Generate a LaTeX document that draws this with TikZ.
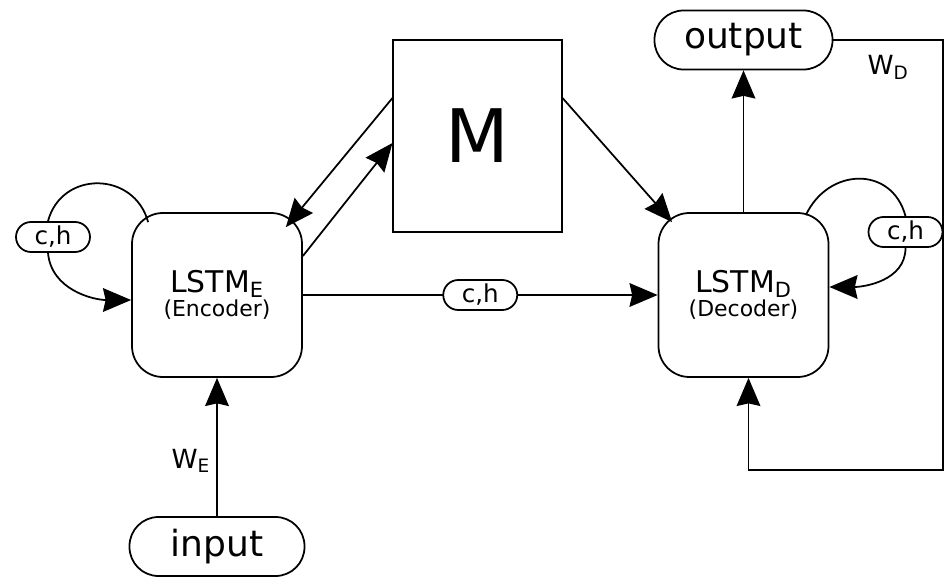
\documentclass[tikz,border=0pt]{standalone}
\usepackage{fontspec}
\setmainfont{DejaVu Sans}
\usepackage{tikz}
\usetikzlibrary{arrows.meta,positioning}
\tikzset{>={Stealth[length=16pt,width=13.5pt,inset=1.5pt]},
	lstm/.style={draw, rounded corners=0.62cm, minimum width=3.4cm, minimum height=3.28cm,
		align=center, font=\fontsize{17}{14}\selectfont},
	iobox/.style={draw, rounded corners=0.58cm, minimum width=3.5cm, minimum height=1.18cm,
		inner sep=0pt, font=\fontsize{20.5}{20}\selectfont},
	chbox/.style={draw, fill=white, rounded corners=0.3cm, minimum width=1.48cm, minimum height=0.6cm,
		inner sep=0pt, font=\fontsize{14}{14}\selectfont},
	membox/.style={draw, line width=0.6pt, minimum width=3.38cm, minimum height=3.84cm,
		font=\fontsize{42}{42}\selectfont},
	wlabel/.style={font=\fontsize{15}{15}\selectfont}}
\newcommand{\lstmsub}[1]{{\fontsize{12.5}{13}\selectfont #1}}

\begin{document}
\begin{tikzpicture}[line width=1pt]

	\useasboundingbox (0,0) rectangle (18.9,11.62);

	\node[lstm] (enc) at (4.34,5.72) {LSTM\textsubscript{E}\\\lstmsub{(Encoder)}};
	\node[lstm] (dec) at (14.87,5.72) {LSTM\textsubscript{D}\\\lstmsub{(Decoder)}};
	\node[membox] (mem) at (9.55,8.90) {M};
	\node[iobox, minimum width=3.56cm] (out) at (14.87,10.82) {output};
	\node[iobox] (in) at (4.34,0.69) {input};
	\node[chbox] (chl) at (1.06,6.88) {c,h};
	\node[chbox] (chr) at (18.11,6.98) {c,h};
	\coordinate (fbtop) at (18.86,10.82);
	\coordinate (fbbot) at (18.86,2.22);

	% input and output
	\draw[->] (in.north) -- node[wlabel, left, pos=0.4] {W\textsubscript{E}} (enc.south);
	\draw[->] (dec.north) -- (out.south);
	\draw[->] (out.east) -- node[wlabel, below=5pt, pos=0.5] {W\textsubscript{D}} (fbtop) -- (fbbot)
		-| ([xshift=0.1cm]dec.south);

	% state passed on
	\draw[->] (enc.east) -- node[chbox] (chm) {c,h} (dec.west);

	% memory
	\draw[->] ([yshift=0.76cm]mem.west) -- ([xshift=-0.34cm,yshift=-0.3cm]enc.north east);
	\draw[->] ([yshift=0.78cm]enc.east) -- ([yshift=-0.14cm]mem.west);
	\draw[->] ([yshift=0.76cm]mem.east) -- ([xshift=0.29cm,yshift=-0.2cm]dec.north west);

	% recurrent loops
	\draw ([xshift=0.34cm,yshift=-0.2cm]enc.north west) to[out=105,in=75,looseness=1.35] ([xshift=-0.1cm]chl.north);
	\draw[->] ([xshift=-0.1cm]chl.south) to[out=-85,in=180] ([yshift=-0.1cm]enc.west);
	\draw ([xshift=-0.47cm,yshift=-0.06cm]dec.north east) to[out=65,in=105,looseness=1.35] (chr.north);
	\draw[->] (chr.south) to[out=-90,in=0] ([yshift=0.16cm]dec.east);

\end{tikzpicture}
\end{document}
